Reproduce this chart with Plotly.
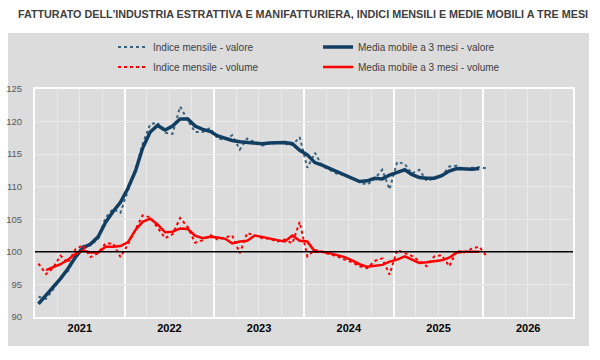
import pandas as pd
import plotly.graph_objects as go

# ---- data (Jan 2021 ... Jan 2026, monthly) ----
start_month = "2021-01-01"
n_months = 61

idx_valore = [93.1, 92.8, 94.2, 96.0, 97.0, 99.3, 100.9, 101.0, 102.0, 105.2, 106.6, 106.0,
              109.5, 112.8, 116.5, 119.6, 119.8, 118.3, 118.1, 122.3, 120.2, 118.4, 118.4, 119.0,
              117.4, 117.2, 117.9, 115.7, 117.4, 116.8, 116.3, 116.8, 116.9, 116.6, 116.4, 117.6,
              112.9, 115.2, 113.2, 112.6, 112.0, 111.8, 111.2, 110.7, 110.3, 111.2, 112.6, 109.6,
              113.8, 113.5, 112.0, 112.6, 110.9, 111.3, 111.6, 113.1, 113.2, 112.6, 112.9, 113.0,
              112.8]
mm_valore = [92.0, 93.3, 94.6, 95.9, 97.4, 99.2, 100.6, 101.2, 102.3, 104.5, 106.2, 107.6,
             109.8, 112.5, 115.9, 118.4, 119.4, 118.7, 119.3, 120.4, 120.4, 119.3, 118.8, 118.5,
             117.8, 117.4, 117.1, 116.9, 116.8, 116.7, 116.6, 116.7, 116.8, 116.8, 116.6, 115.6,
             114.9, 113.7, 113.3, 112.8, 112.3, 111.8, 111.4, 110.8, 110.9, 111.3, 111.2, 111.8,
             112.2, 112.6, 111.9, 111.4, 111.3, 111.3, 111.7, 112.4, 112.8, 112.7, 112.7, 112.8,
             None]
idx_volume = [98.2, 96.6, 97.5, 99.4, 98.3, 100.4, 101.0, 99.2, 99.8, 101.3, 101.3, 99.2,
              101.2, 103.4, 105.6, 105.3, 103.8, 102.1, 102.7, 105.2, 103.8, 101.4, 101.8, 102.6,
              101.9, 102.2, 102.5, 99.8, 102.9, 102.5, 102.1, 102.0, 101.6, 101.9, 101.3, 104.6,
              99.3, 100.3, 100.0, 99.6, 99.3, 98.8, 98.4, 97.8, 97.5, 98.6, 99.0, 96.5,
              100.3, 99.8, 99.4, 98.6, 97.8, 99.3, 99.5, 97.8, 100.2, 99.9, 100.5, 100.8,
              99.3]
mm_volume = [None, 97.2, 97.6, 98.1, 98.8, 99.7, 100.2, 99.9, 99.9, 100.8, 100.8, 100.9,
             101.5, 103.4, 104.6, 105.1, 104.2, 103.0, 103.1, 103.6, 103.5, 102.5, 102.1, 102.3,
             102.2, 102.0, 101.3, 101.6, 101.7, 102.5, 102.3, 102.0, 101.8, 101.6, 102.5, 101.7,
             101.6, 100.0, 100.0, 99.8, 99.5, 99.2, 98.7, 98.1, 97.7, 97.8, 98.0, 98.5,
             98.8, 99.3, 98.8, 98.3, 98.4, 98.5, 98.7, 99.1, 99.9, 100.0, 100.0, 100.0,
             None]

title_text = "FATTURATO DELL'INDUSTRIA ESTRATTIVA E MANIFATTURIERA, INDICI MENSILI E MEDIE MOBILI A TRE MESI"
names = ["Indice mensile - valore", "Media mobile a 3 mesi - valore",
         "Indice mensile - volume", "Media mobile a 3 mesi - volume"]

# month points placed mid-month
dates = pd.date_range(start_month, periods=n_months, freq="MS") + pd.Timedelta(days=14)

NAVY = "#123E61"
NAVY_DOT = "#3A6382"
RED = "#FF0000"
BG = "#DCDCDC"
FONT = "Liberation Sans, Arial, sans-serif"

L, R, T, B = 35, 27, 89, 43
PW, PH = 600 - L - R, 360 - T - B


def px_x(px):
    return (px - L) / PW


def px_y(py):
    return (360 - B - py) / PH


fig = go.Figure()
fig.add_trace(go.Scatter(x=dates, y=idx_valore, name=names[0], mode="lines", legend="legend",
                         line=dict(color=NAVY_DOT, width=2, dash="dot")))
fig.add_trace(go.Scatter(x=dates, y=mm_valore, name=names[1], mode="lines", legend="legend2",
                         line=dict(color=NAVY, width=3.5)))
fig.add_trace(go.Scatter(x=dates, y=idx_volume, name=names[2], mode="lines", legend="legend3",
                         line=dict(color=RED, width=2, dash="dot")))
fig.add_trace(go.Scatter(x=dates, y=mm_volume, name=names[3], mode="lines", legend="legend4",
                         line=dict(color=RED, width=2.5)))

leg_common = dict(orientation="h", xanchor="left", yanchor="middle",
                  bgcolor="rgba(0,0,0,0)", font=dict(family=FONT, size=10, color="#404040"))

fig.update_layout(
    width=600, height=360,
    margin=dict(l=L, r=R, t=T, b=B, pad=0, autoexpand=False),
    paper_bgcolor="white", plot_bgcolor=BG,
    font=dict(family=FONT, color="#404040"),
    title=dict(text="<b>" + title_text + "</b>", x=0.505, xanchor="center",
               y=1 - 14 / 360, yanchor="middle",
               font=dict(family=FONT, size=10.8, color="#404040")),
    showlegend=True,
    legend=dict(x=px_x(113), y=px_y(47), **leg_common),
    legend2=dict(x=px_x(318), y=px_y(47), **leg_common),
    legend3=dict(x=px_x(113), y=px_y(67), **leg_common),
    legend4=dict(x=px_x(318), y=px_y(67), **leg_common),
    xaxis=dict(type="date", range=["2021-01-01", "2027-01-01"],
               tick0="2021-01-01", dtick="M12", tickformat="%Y",
               ticklabelmode="period", showgrid=True, gridcolor="white", gridwidth=2,
               showline=True, linecolor="white", linewidth=2, mirror=True,
               ticks="", zeroline=False, fixedrange=True,
               tickfont=dict(family=FONT, size=11, color="black", weight="bold"),
               minor=dict(dtick="M3", tick0="2021-01-01", showgrid=True,
                          gridcolor="#E9E9E9", gridwidth=1)),
    yaxis=dict(range=[90, 125], dtick=5, tick0=90, showgrid=True,
               gridcolor="#E9E9E9", gridwidth=1,
               showline=True, linecolor="white", linewidth=2, mirror=True,
               ticks="", zeroline=False, ticklabelstandoff=9, fixedrange=True,
               tickfont=dict(family=FONT, size=9.5, color="#595959")),
    shapes=[
        dict(type="rect", xref="paper", yref="paper",
             x0=px_x(8), x1=px_x(589), y0=px_y(346), y1=px_y(33),
             fillcolor=BG, line=dict(width=0), layer="below"),
        dict(type="line", xref="paper", yref="y", x0=0, x1=1, y0=100, y1=100,
             line=dict(color="black", width=1.5), layer="above"),
    ],
)

fig.write_html("out.html",
               config={"displayModeBar": False, "staticPlot": True},
               post_script="document.body.style.margin='0';document.body.style.padding='0';")
